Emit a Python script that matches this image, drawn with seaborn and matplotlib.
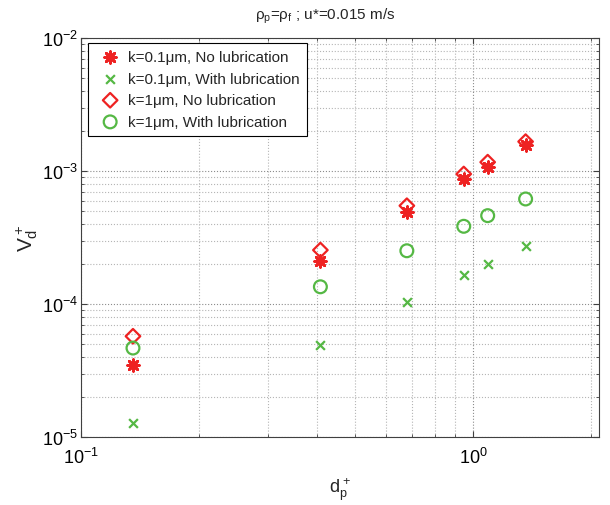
import matplotlib
matplotlib.use("Agg")
import matplotlib.pyplot as plt
import matplotlib.ticker as mticker
import numpy as np
import pandas as pd
import seaborn as sns

# particle diameter d_p+ (same for every series)
dp = [0.1357, 0.408, 0.678, 0.947, 1.090, 1.362]

# deposition velocity V_d+
vd_k01_nolub = [3.46e-5, 2.12e-4, 4.91e-4, 8.74e-4, 1.08e-3, 1.58e-3]
vd_k01_lub = [1.27e-5, 4.95e-5, 1.03e-4, 1.66e-4, 2.00e-4, 2.74e-4]
vd_k1_nolub = [5.73e-5, 2.55e-4, 5.50e-4, 9.53e-4, 1.17e-3, 1.67e-3]
vd_k1_lub = [4.67e-5, 1.35e-4, 2.52e-4, 3.85e-4, 4.63e-4, 6.18e-4]

labels = ["k=0.1\u03bcm, No lubrication", "k=0.1\u03bcm, With lubrication",
          "k=1\u03bcm, No lubrication", "k=1\u03bcm, With lubrication"]

red = "#ee2222"
green = "#55b844"

sns.set_style("ticks")
plt.rcParams["font.family"] = ["Liberation Sans", "DejaVu Sans"]
plt.rcParams["mathtext.fontset"] = "custom"
plt.rcParams["mathtext.rm"] = "Liberation Sans"
plt.rcParams["mathtext.it"] = "Liberation Sans"
plt.rcParams["mathtext.bf"] = "Liberation Sans:bold"

df = pd.DataFrame({"dp": dp * 4,
                   "vd": vd_k01_nolub + vd_k01_lub + vd_k1_nolub + vd_k1_lub,
                   "case": np.repeat(labels, len(dp))})

fig = plt.figure(figsize=(6.1, 5.06), dpi=100)
ax = fig.add_axes([0.1328, 0.1344, 0.8497, 0.7879])

styles = {
    labels[0]: dict(marker=(8, 2, 0), s=70, color=red, linewidth=2.0),
    labels[1]: dict(marker="x", s=40, color=green, linewidth=1.6),
    labels[2]: dict(marker="D", s=55, facecolor="none", edgecolor=red, linewidth=1.6),
    labels[3]: dict(marker="o", s=85, facecolor="none", edgecolor=green, linewidth=1.6),
}
for lab in labels:
    sub = df[df["case"] == lab]
    sns.scatterplot(data=sub, x="dp", y="vd", ax=ax, label=lab, zorder=3, **styles[lab])

ax.set_xscale("log")
ax.set_yscale("log")
ax.set_xlim(0.1, 2.1)
ax.set_ylim(1e-5, 1e-2)

ax.xaxis.set_minor_formatter(mticker.NullFormatter())
ax.yaxis.set_minor_formatter(mticker.NullFormatter())
ax.tick_params(which="both", direction="in", top=True, right=True,
               colors="#404040", labelcolor="black")
ax.tick_params(which="major", length=4, labelsize=13)
ax.tick_params(axis="x", which="major", pad=7)
ax.tick_params(axis="y", which="major", pad=2)
ax.tick_params(which="minor", length=2)
for sp in ax.spines.values():
    sp.set_color("#404040")
    sp.set_linewidth(0.8)

ax.grid(which="major", linestyle=":", color="#8c8c8c", linewidth=0.8)
ax.grid(which="minor", linestyle=":", color="#b5b5b5", linewidth=0.8)

ax.set_xlabel(r"$d_p^+$", fontsize=13, labelpad=6)
ax.set_ylabel(r"$V_d^+$", fontsize=15)
ax.yaxis.set_label_coords(-0.08, 0.5)
ax.set_title(r"$\rho_p$=$\rho_f$ ; u*=0.015 m/s", fontsize=11, pad=14, x=0.472)

leg = ax.legend(loc="upper left", bbox_to_anchor=(0.0135, 0.988), borderaxespad=0,
                fontsize=11, frameon=True, fancybox=False, edgecolor="black",
                framealpha=1, handletextpad=0.2, labelspacing=0.5, borderpad=0.45)
leg.get_frame().set_linewidth(0.8)

fig.savefig("out.png", dpi=100)
